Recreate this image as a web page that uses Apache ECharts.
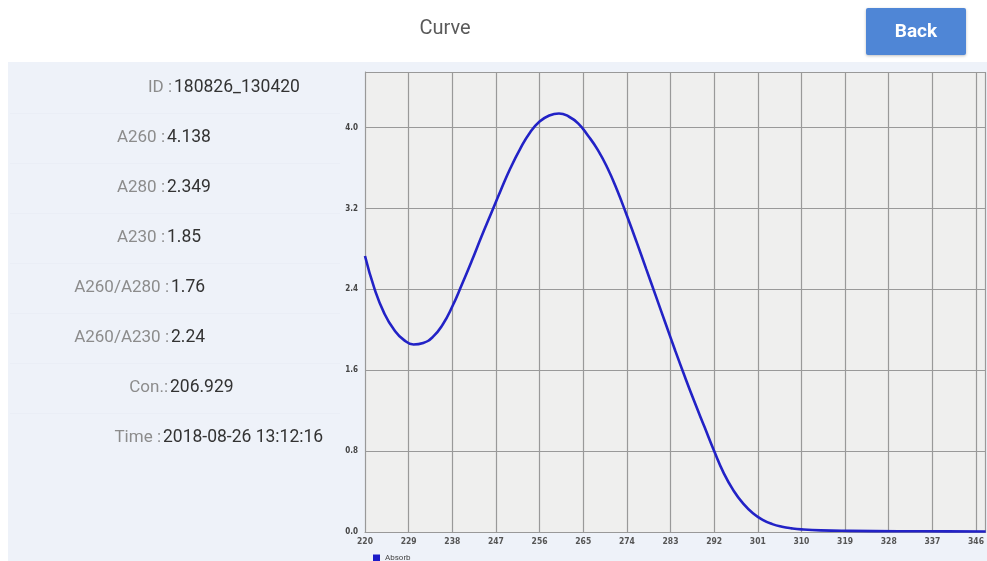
<!DOCTYPE html>
<html>
<head>
<meta charset="utf-8">
<script src="https://cdn.jsdelivr.net/npm/echarts@6/dist/echarts.min.js"></script>
<style>
html,body{margin:0;padding:0;background:#ffffff;}
#chart{width:987px;height:561px;}
</style>
</head>
<body>
<div id="chart"></div>
<script>
// ---- data ----
const wavelengths = [220,222,224,226,228,230,232,234,236,238,240,242,244,246,248,250,252,254,256,258,260,262,264,266,268,270,272,274,276,278,280,282,284,286,288,290,292,294,296,298,300,302,304,306,308,310,314,320,330,340,348];
const absorb = [2.73,2.40,2.16,2.00,1.90,1.855,1.87,1.93,2.05,2.23,2.45,2.68,2.92,3.15,3.38,3.60,3.79,3.95,4.06,4.12,4.14,4.11,4.04,3.92,3.78,3.60,3.38,3.13,2.87,2.60,2.33,2.06,1.79,1.53,1.28,1.04,0.80,0.58,0.41,0.28,0.185,0.12,0.078,0.052,0.036,0.026,0.016,0.011,0.008,0.006,0.005];
const seriesName = 'Absorb';
const infoLabels = ['ID :','A260 :','A280 :','A230 :','A260/A280 :','A260/A230 :','Con.:','Time :'];
const infoValues = ['180826_130420','4.138','2.349','1.85','1.76','2.24','206.929','2018-08-26 13:12:16'];
const xTickStart = 220, xTickStep = 9, xMax = 348;
const yTickStep = 0.8, yMax = 4.55;

// ---- layout ----
const colonX = [172,165,165,165,169,169,168,161];
const rowY0 = 88, rowDY = 50;

const seriesData = wavelengths.map((w,i)=>[w,absorb[i]]);

const graphics = [
  {type:'rect', shape:{x:8,y:62,width:979,height:499}, style:{fill:'#eef2f9'}, z:-10, silent:true},
  {type:'rect', shape:{x:866,y:8,width:100,height:47,r:2}, style:{fill:'#4f86d6', shadowBlur:3, shadowColor:'rgba(0,0,0,0.25)', shadowOffsetY:1}},
  {type:'text', x:916, y:32, style:{text:'Back', fill:'#ffffff', font:'bold 19px Roboto', textAlign:'center', textVerticalAlign:'middle'}}
];
infoLabels.forEach((lab,i)=>{
  const y = rowY0 + rowDY*i;
  if (i < infoLabels.length - 1) {
    graphics.push({type:'rect', shape:{x:10,y:y+25,width:330,height:1}, style:{fill:'#eaeef6'}, z:-5, silent:true});
  }
  graphics.push({type:'text', x:colonX[i], y:y, style:{text:lab, fill:'#8c8c8c', font:'17px Roboto', textAlign:'right', textVerticalAlign:'middle'}});
  graphics.push({type:'text', x:colonX[i]+2, y:y, style:{text:infoValues[i], fill:'#333333', font:'17.5px Roboto', textAlign:'left', textVerticalAlign:'middle'}});
});

const chart = echarts.init(document.getElementById('chart'), null, {renderer:'canvas'});
chart.setOption({
  animation:false,
  backgroundColor:'#ffffff',
  title:{text:'Curve', left:440, top:14, textAlign:'center', textStyle:{fontFamily:'Roboto', fontWeight:'normal', fontSize:20, color:'#5a5a5a'}},
  graphic:graphics,
  legend:{data:[{name:seriesName, icon:'rect'}], left:368, top:549, itemWidth:7, itemHeight:7, itemGap:4,
    textStyle:{fontSize:8, color:'#444', fontFamily:'Roboto'}},
  grid:{left:365, top:72, right:0, bottom:29, show:true, backgroundColor:'#efefee', borderWidth:0},
  xAxis:{type:'value', min:xTickStart, max:xMax, interval:xTickStep,
    axisLine:{show:true, onZero:false, lineStyle:{color:'#999', width:1}},
    axisTick:{show:false},
    axisLabel:{showMaxLabel:false, fontSize:8.5, fontWeight:'bold', color:'#555', margin:5, fontFamily:'DejaVu Sans Condensed'},
    splitLine:{show:true, lineStyle:{color:'#999999', width:1.2}}},
  yAxis:{type:'value', min:0, max:yMax, interval:yTickStep,
    axisLine:{show:true, lineStyle:{color:'#999', width:1}},
    axisTick:{show:false},
    axisLabel:{showMaxLabel:false, fontSize:8, fontWeight:'bold', color:'#444', margin:7, fontFamily:'DejaVu Sans Condensed',
      formatter:v=>v.toFixed(1)},
    splitLine:{show:true, lineStyle:{color:'#999999', width:1.2}}},
  series:[{name:seriesName, type:'line', data:seriesData, smooth:true, showSymbol:false,
    itemStyle:{color:'#1c1cc8'}, lineStyle:{color:'#2222c6', width:2.6}}]
});
</script>
</body>
</html>
